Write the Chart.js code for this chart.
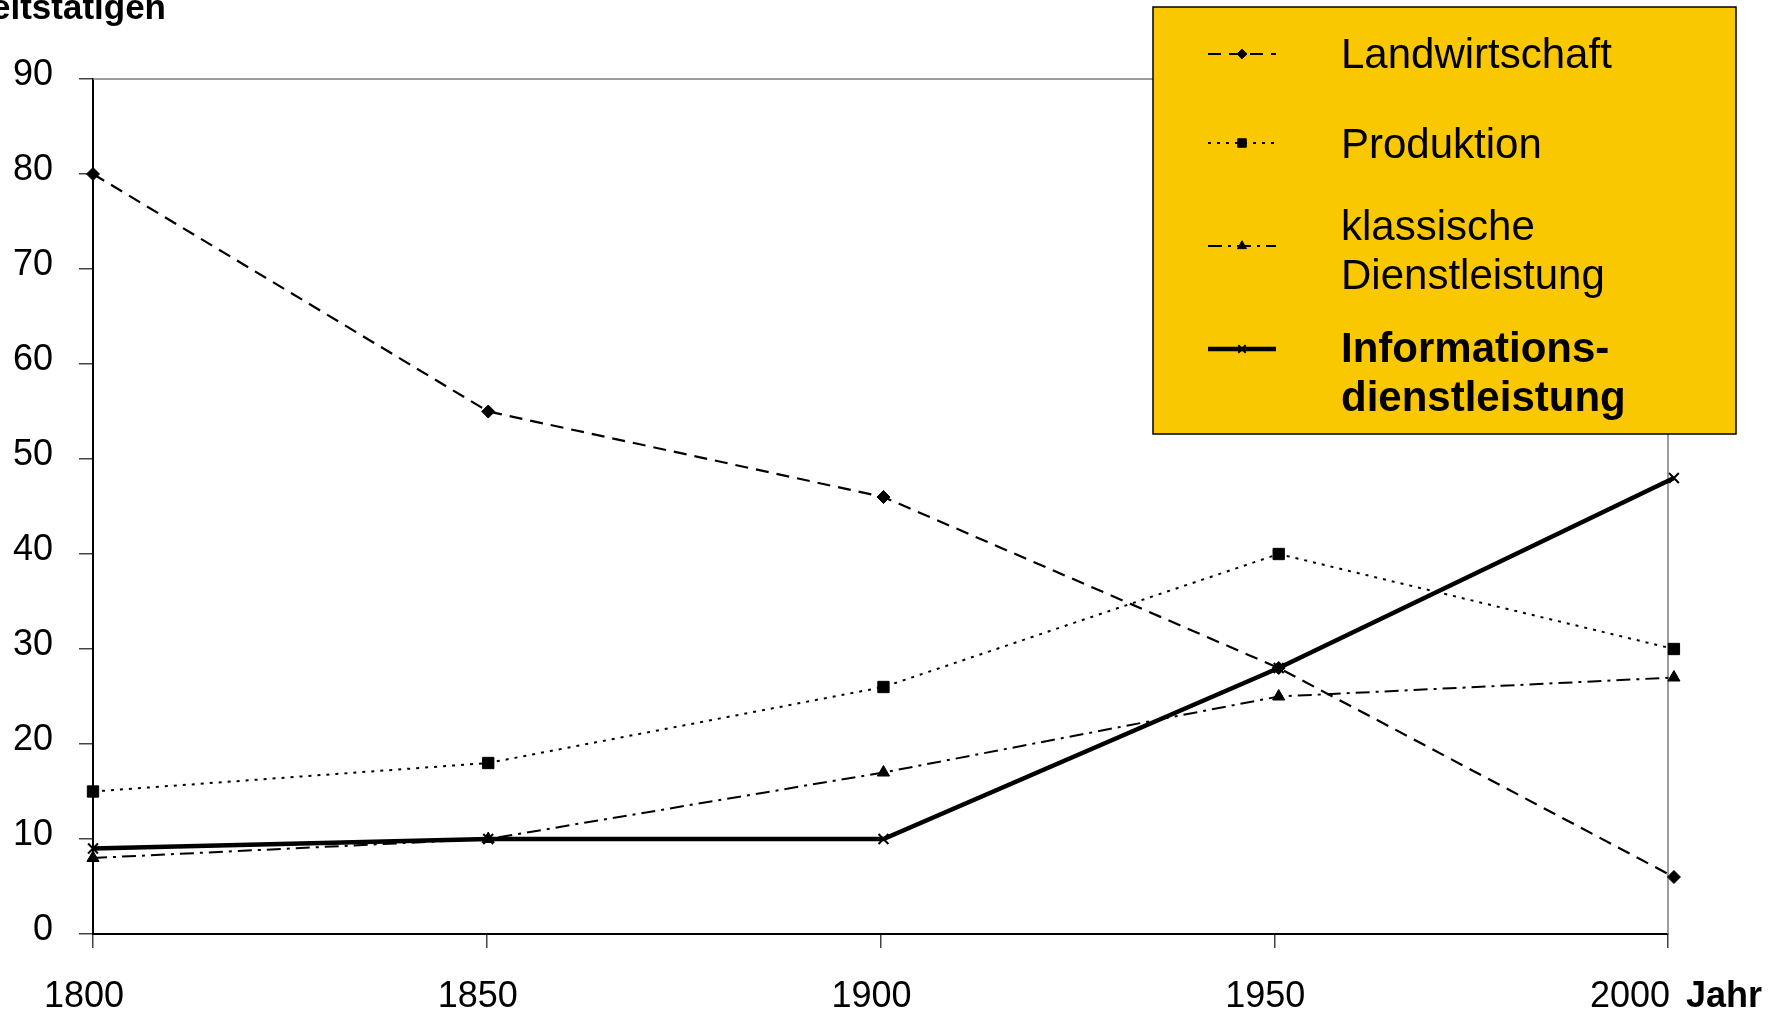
<!DOCTYPE html>
<html lang="de">
<head>
<meta charset="utf-8">
<title>Beschäftigte nach Sektoren 1800–2000</title>
<script src="https://cdn.jsdelivr.net/npm/chart.js@4.4.1/dist/chart.umd.min.js"></script>
<style>
  html, body { margin: 0; padding: 0; background: #fff; }
  canvas { display: block; }
</style>
</head>
<body>
<canvas id="chart" width="1771" height="1012"></canvas>
<script>
// ---- data -------------------------------------------------------------
const years = [1800, 1850, 1900, 1950, 2000];
const landwirtschaft = [80, 55, 46, 28, 6];
const produktion = [15, 18, 26, 40, 30];
const klassischeDienstleistung = [8, 10, 17, 25, 27];
const informationsdienstleistung = [9, 10, 10, 28, 48];

const yTicks = [0, 10, 20, 30, 40, 50, 60, 70, 80, 90];
const xTickLabels = ['1800', '1850', '1900', '1950', '2000'];
const seriesLabels = [
  ['Landwirtschaft'],
  ['Produktion'],
  ['klassische', 'Dienstleistung'],
  ['Informations-', 'dienstleistung']
];
const yAxisTitle = 'Anteil der Arbeitstätigen';
const xAxisTitle = 'Jahr';

// ---- styling ----------------------------------------------------------
const FONT = '"Liberation Sans", Arial, Helvetica, sans-serif';
Chart.defaults.font.family = FONT;
Chart.defaults.color = '#000';

const seriesStyles = [
  { dash: [13, 8],        width: 2.2, point: 'rectRot',  radius: 6.5, pbw: 1 },
  { dash: [3, 6],         width: 2,   point: 'rect',     radius: 8,   pbw: 1 },
  { dash: [14, 6, 3, 6],  width: 2,   point: 'triangle', radius: 7,   pbw: 1 },
  { dash: [],             width: 4.5, point: 'crossRot', radius: 7,   pbw: 2 }
];
const seriesValues = [landwirtschaft, produktion, klassischeDienstleistung, informationsdienstleistung];

const datasets = seriesValues.map((vals, i) => {
  const s = seriesStyles[i];
  return {
    label: seriesLabels[i].join(' '),
    data: years.map((yr, k) => ({ x: yr, y: vals[k] })),
    xAxisID: 'xd',
    yAxisID: 'y',
    borderColor: '#000',
    borderWidth: s.width,
    borderDash: s.dash,
    pointStyle: s.point,
    pointRadius: s.radius,
    pointBorderWidth: s.pbw,
    pointBackgroundColor: '#000',
    pointBorderColor: '#000',
    tension: 0,
    fill: false,
    clip: false
  };
});

// grey frame on the top and right side of the plot area
const framePlugin = {
  id: 'frame',
  beforeDatasetsDraw(chart) {
    const { ctx, chartArea: a } = chart;
    ctx.save();
    ctx.strokeStyle = '#7f7f7f';
    ctx.lineWidth = 1.5;
    ctx.beginPath();
    ctx.moveTo(a.left, a.top);
    ctx.lineTo(a.right, a.top);
    ctx.lineTo(a.right, a.bottom);
    ctx.stroke();
    ctx.restore();
  }
};

// axis titles, last year label and the boxed legend
const decorPlugin = {
  id: 'decor',
  afterDraw(chart) {
    const { ctx } = chart;
    const xs = chart.scales.x;
    ctx.save();

    // y-axis title, top left
    ctx.fillStyle = '#000';
    ctx.font = 'bold 35px ' + FONT;
    ctx.textAlign = 'right';
    ctx.textBaseline = 'alphabetic';
    ctx.fillText(yAxisTitle, 166, 19);

    // "2000 Jahr" below the last tick
    const px = xs.getPixelForValue(years[years.length - 1]);
    const ly = xs.top + 14 + 27 + 21.6;
    ctx.textBaseline = 'middle';
    ctx.font = '36px ' + FONT;
    ctx.textAlign = 'right';
    ctx.fillText(xTickLabels[xTickLabels.length - 1], px + 2, ly);
    ctx.font = 'bold 36px ' + FONT;
    ctx.textAlign = 'left';
    ctx.fillText(xAxisTitle, px + 18, ly);

    // legend box
    const box = { x: 1153, y: 7, w: 583, h: 427 };
    ctx.fillStyle = '#FAC800';
    ctx.fillRect(box.x, box.y, box.w, box.h);
    ctx.strokeStyle = '#000';
    ctx.lineWidth = 1.5;
    ctx.strokeRect(box.x, box.y, box.w, box.h);

    const sampleY = [54, 143, 246, 349];
    const textY = [56, 146, 228, 350];
    const lineGap = 49;
    seriesStyles.forEach((s, i) => {
      ctx.save();
      ctx.strokeStyle = '#000';
      ctx.lineWidth = s.width;
      ctx.setLineDash(s.dash);
      ctx.beginPath();
      ctx.moveTo(1208, sampleY[i]);
      ctx.lineTo(1276, sampleY[i]);
      ctx.stroke();
      ctx.setLineDash([]);
      ctx.fillStyle = '#000';
      ctx.lineWidth = s.pbw;
      Chart.helpers.drawPoint(ctx, { pointStyle: s.point, radius: s.radius * 0.75, borderWidth: s.pbw }, 1242, sampleY[i]);
      ctx.restore();

      ctx.fillStyle = '#000';
      ctx.font = (i === 3 ? 'bold ' : '') + '42px ' + FONT;
      ctx.textAlign = 'left';
      ctx.textBaseline = 'middle';
      seriesLabels[i].forEach((line, k) => ctx.fillText(line, 1341, textY[i] + k * lineGap));
    });

    ctx.restore();
  }
};

new Chart(document.getElementById('chart'), {
  type: 'line',
  data: { datasets },
  options: {
    responsive: false,
    animation: false,
    devicePixelRatio: 1,
    layout: { padding: { left: 0, top: 79, right: 103, bottom: 0 } },
    plugins: { legend: { display: false }, tooltip: { enabled: false } },
    scales: {
      x: {
        type: 'linear',
        position: 'bottom',
        min: years[0],
        max: years[years.length - 1],
        afterBuildTicks: s => { s.ticks = years.map(v => ({ value: v })); },
        afterFit: s => { s.height = 1012 - 934; },
        ticks: {
          autoSkip: false,
          maxRotation: 0,
          padding: 27,
          labelOffset: -9,
          font: { size: 36 },
          color: '#000',
          callback: (v, i) => (i === years.length - 1 ? '' : xTickLabels[i])
        },
        grid: { drawOnChartArea: false, drawTicks: true, tickLength: 14, color: '#444', lineWidth: 1.5 },
        border: { display: true, color: '#000', width: 2 }
      },
      // data points sit slightly right of the year ticks, so they get their own scale
      xd: {
        type: 'linear',
        display: false,
        min: years[0],
        max: 1999.25
      },
      y: {
        min: yTicks[0],
        max: yTicks[yTicks.length - 1],
        afterBuildTicks: s => { s.ticks = yTicks.map(v => ({ value: v })); },
        afterFit: s => { s.width = 93; },
        ticks: {
          padding: 26,
          labelOffset: -4,
          font: { size: 36 },
          color: '#000',
          callback: v => String(v)
        },
        grid: { drawOnChartArea: false, drawTicks: true, tickLength: 14, color: '#444', lineWidth: 1.5 },
        border: { display: true, color: '#000', width: 2 }
      }
    }
  },
  plugins: [framePlugin, decorPlugin]
});
</script>
</body>
</html>
